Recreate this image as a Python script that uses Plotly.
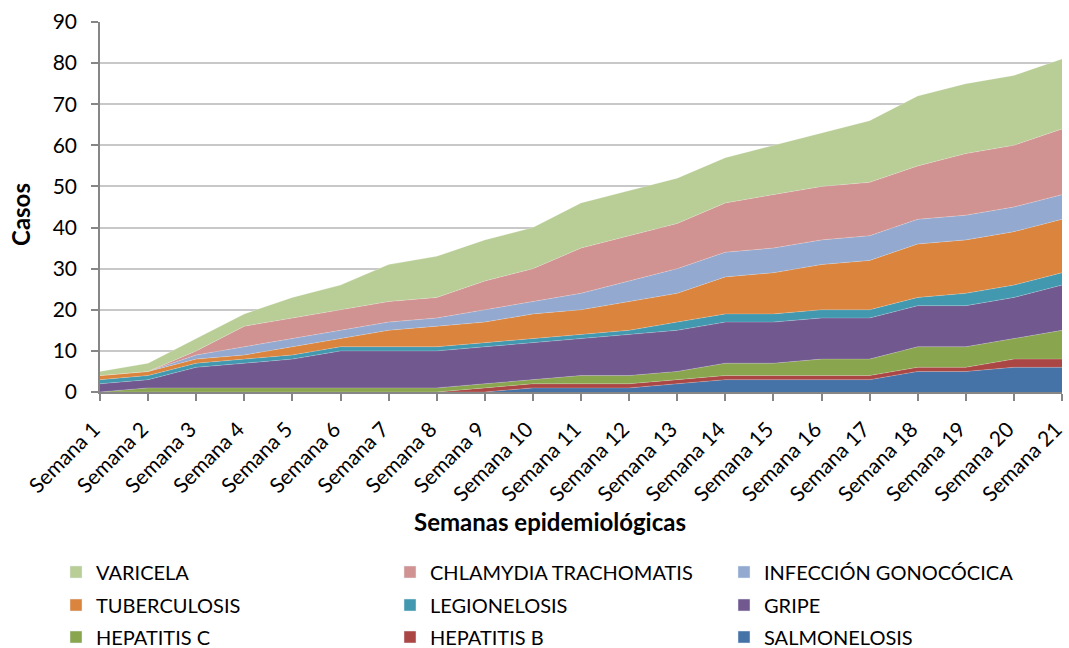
import plotly.graph_objects as go

weeks = [f"Semana {i}" for i in range(1, 22)]

salmonelosis = [0, 0, 0, 0, 0, 0, 0, 0, 0, 1, 1, 1, 2, 3, 3, 3, 3, 5, 5, 6, 6]
hepatitis_b = [0, 0, 0, 0, 0, 0, 0, 0, 1, 1, 1, 1, 1, 1, 1, 1, 1, 1, 1, 2, 2]
hepatitis_c = [0, 1, 1, 1, 1, 1, 1, 1, 1, 1, 2, 2, 2, 3, 3, 4, 4, 5, 5, 5, 7]
gripe = [2, 2, 5, 6, 7, 9, 9, 9, 9, 9, 9, 10, 10, 10, 10, 10, 10, 10, 10, 10, 11]
legionelosis = [1, 1, 1, 1, 1, 1, 1, 1, 1, 1, 1, 1, 2, 2, 2, 2, 2, 2, 3, 3, 3]
tuberculosis = [1, 1, 1, 1, 2, 2, 4, 5, 5, 6, 6, 7, 7, 9, 10, 11, 12, 13, 13, 13, 13]
gonococica = [0, 0, 1, 2, 2, 2, 2, 2, 3, 3, 4, 5, 6, 6, 6, 6, 6, 6, 6, 6, 6]
chlamydia = [0, 0, 1, 5, 5, 5, 5, 5, 7, 8, 11, 11, 11, 12, 13, 13, 13, 13, 15, 15, 16]
varicela = [1, 2, 3, 3, 5, 6, 9, 10, 10, 10, 11, 11, 11, 11, 12, 13, 15, 17, 17, 17, 17]

series = [
    ("SALMONELOSIS", salmonelosis, "#4572A7"),
    ("HEPATITIS B", hepatitis_b, "#AA4643"),
    ("HEPATITIS C", hepatitis_c, "#89A54E"),
    ("GRIPE", gripe, "#71588F"),
    ("LEGIONELOSIS", legionelosis, "#4198AF"),
    ("TUBERCULOSIS", tuberculosis, "#DB843D"),
    ("INFECCIÓN GONOCÓCICA", gonococica, "#93A9CF"),
    ("CHLAMYDIA TRACHOMATIS", chlamydia, "#D19392"),
    ("VARICELA", varicela, "#B9CD96"),
]

FONT = "Lato"
fig = go.Figure()

for name, vals, color in series:
    fig.add_trace(go.Scatter(
        x=weeks, y=vals, name=name, stackgroup="one", mode="lines",
        line=dict(width=0.6, color="rgba(255,255,255,0.35)"),
        fillcolor=color, showlegend=False, hoverinfo="x+y+name",
    ))

# legend rows (top of stack first), three items per row
legend_rows = [
    ["VARICELA", "CHLAMYDIA TRACHOMATIS", "INFECCIÓN GONOCÓCICA"],
    ["TUBERCULOSIS", "LEGIONELOSIS", "GRIPE"],
    ["HEPATITIS C", "HEPATITIS B", "SALMONELOSIS"],
]
colors = {n: c for n, _, c in series}
legend_ids = ["legend", "legend2", "legend3"]
for lid, row in zip(legend_ids, legend_rows):
    for name in row:
        fig.add_trace(go.Bar(
            x=[None], y=[None], name=name, marker_color=colors[name],
            showlegend=True, legend=lid,
        ))

W, H = 1069, 648
ml, mr, mt, mb = 100, 7, 22, 256
pw, ph = W - ml - mr, H - mt - mb

def px_x(x):
    return (x - ml) / pw

def px_y(y):
    return (H - mb - y) / ph

leg_common = dict(
    orientation="h", xanchor="left", yanchor="middle",
    font=dict(family=FONT, size=20, color="#000000"),
    entrywidth=289, entrywidthmode="pixels",
    bgcolor="rgba(0,0,0,0)", traceorder="normal",
    itemclick=False, itemdoubleclick=False,
)
row_y = [572, 605, 637]
legend_layout = {}
for lid, yy in zip(legend_ids, row_y):
    legend_layout[lid] = dict(leg_common, x=px_x(56), y=px_y(yy))

fig.update_layout(
    width=W, height=H,
    margin=dict(l=ml, r=mr, t=mt, b=mb, autoexpand=False),
    paper_bgcolor="white", plot_bgcolor="white",
    font=dict(family=FONT, size=20, color="#000000"),
    barmode="overlay",
    xaxis=dict(
        type="category", range=[0, 20], tickangle=-45, automargin=False,
        showline=True, linecolor="#868686", linewidth=1.5,
        ticks="outside", ticklen=7, tickcolor="#868686", tickwidth=1.5,
        ticklabelstandoff=8, ticklabelshift=-6,
        showgrid=False, zeroline=False,
        tickfont=dict(family=FONT, size=21, color="#000000"),
    ),
    yaxis=dict(
        range=[0, 90], dtick=10, tick0=0, automargin=False,
        showline=True, linecolor="#868686", linewidth=1.5,
        ticks="outside", ticklen=7, tickcolor="#868686", tickwidth=1.5,
        ticklabelstandoff=10,
        showgrid=True, gridcolor="#C8C8C8", gridwidth=1.5,
        zeroline=False,
        tickfont=dict(family=FONT, size=21, color="#000000"),
    ),
    annotations=[
        dict(text="<b>Semanas epidemiológicas</b>", xref="paper", yref="paper",
             x=px_x(550), y=px_y(521), showarrow=False,
             xanchor="center", yanchor="middle",
             font=dict(family=FONT, size=24, color="#000000")),
        dict(text="<b>Casos</b>", xref="paper", yref="paper",
             x=px_x(20), y=px_y(215), showarrow=False, textangle=-90,
             xanchor="center", yanchor="middle",
             font=dict(family=FONT, size=24, color="#000000")),
    ],
    **legend_layout,
)

fig.write_html(
    "out.html",
    config={"displayModeBar": False},
    post_script="document.body.style.margin='0';document.body.style.overflow='hidden';",
)
